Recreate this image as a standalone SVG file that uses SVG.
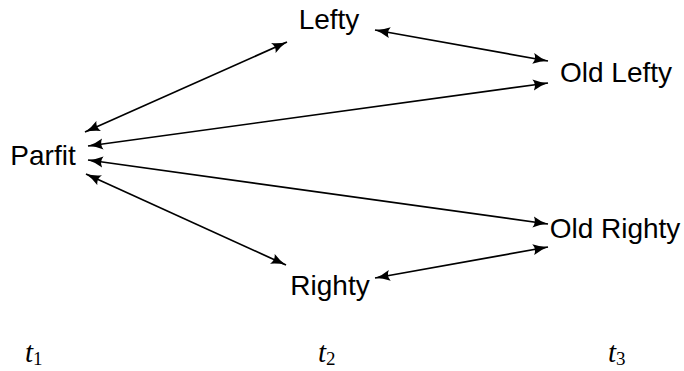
<svg xmlns="http://www.w3.org/2000/svg" width="684" height="371" viewBox="0 0 684 371">
<style>
.lbl{font-family:"Liberation Sans","DejaVu Sans",sans-serif;font-size:28px;fill:#000;text-anchor:middle}
.t{font-family:"Liberation Serif","DejaVu Serif",serif;font-style:italic;font-size:29px;fill:#000}
.sub{font-family:"Liberation Serif","DejaVu Serif",serif;font-size:19px;fill:#000;font-style:normal}
.e{stroke:#000;stroke-width:1.7;fill:none;marker-start:url(#ah);marker-end:url(#ah)}
</style>
<defs>
<marker id="ah" markerUnits="userSpaceOnUse" markerWidth="16" markerHeight="12" refX="15" refY="6" orient="auto-start-reverse" viewBox="0 0 16 12">
<path d="M0,0.5 Q7,4.5 15,6 Q7,7.5 0,11.5 Q3.5,6 0,0.5 z" fill="#000"/>
</marker>
</defs>
<g id="edges">
<line class="e" x1="85" y1="132" x2="287" y2="42"/>
<line class="e" x1="375" y1="30" x2="548" y2="61"/>
<line class="e" x1="88" y1="146" x2="548" y2="83"/>
<line class="e" x1="88" y1="160" x2="548" y2="224"/>
<line class="e" x1="86" y1="174" x2="286" y2="265"/>
<line class="e" x1="375" y1="278" x2="548" y2="247"/>
</g>
<g id="parfit"><text class="lbl" x="43" y="165">Parfit</text></g>
<g id="lefty"><text class="lbl" x="329" y="29">Lefty</text></g>
<g id="oldlefty"><text class="lbl" x="616" y="82">Old Lefty</text></g>
<g id="oldrighty"><text class="lbl" x="615" y="238">Old Righty</text></g>
<g id="righty"><text class="lbl" x="330" y="295">Righty</text></g>
<g id="t1"><text class="t" x="25" y="362">t<tspan class="sub" dy="3">1</tspan></text></g>
<g id="t2"><text class="t" x="318" y="362">t<tspan class="sub" dy="3">2</tspan></text></g>
<g id="t3"><text class="t" x="608" y="362">t<tspan class="sub" dy="3">3</tspan></text></g>
</svg>
